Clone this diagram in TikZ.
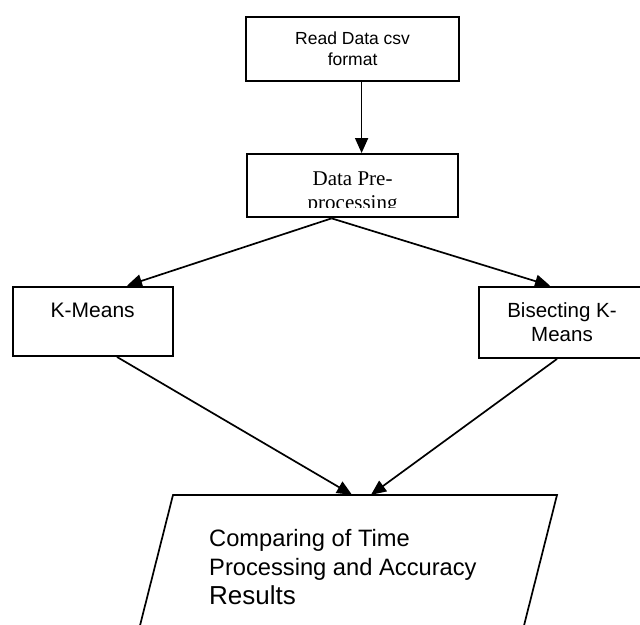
\documentclass[tikz,border=0pt]{standalone}
\usepackage{fontspec}
\setmainfont{Liberation Sans}
\newfontfamily\timesfont{Liberation Serif}
\usetikzlibrary{arrows.meta}
\tikzset{
   flowbox/.style={draw, line width=2pt, inner sep=0pt},
   flowline/.style={line width=1.7pt, -{Triangle[length=15pt, width=13pt]}},
   flowtext/.style={inner sep=0pt, align=center}
}
\begin{document}
\begin{tikzpicture}[x=1pt, y=-1pt]
      \clip (0,0) rectangle (640,624);
      \def \Boxes {
         read/352.6/48.9/212.3/64.3,
         pre/352.6/185.7/211.3/63.3,
         kmeans/92.7/321.3/160/69.3,
         bisect/562/322.3/166/71.3}
      \def \Edges {
         read/9/pre/9,
         pre/-21/kmeans/34.3,
         pre/-21/bisect/-12,
         kmeans/24.3/res/-9.5,
         bisect/-5/res/9.5}
      \foreach \u / \x / \y / \w / \h in \Boxes {
         \node[flowbox, minimum width=\w pt, minimum height=\h pt] (\u) at (\x, \y) {};
      }
      \node[flowtext, font=\fontsize{17.5}{20.5}\selectfont] (readtext) at (read) {Read Data csv\\format};
      \node[flowtext, anchor=base, font=\fontsize{21}{24}\selectfont] (kmeanstext) at ([yshift=-32.3pt]kmeans.north) {K-Means};
      \node[flowtext, font=\fontsize{20.5}{23.7}\selectfont] (bisecttext) at (bisect) {Bisecting K-\\Means};
      \begin{scope}
         \clip ([yshift=10.6pt]pre.south west) rectangle (pre.north east);
         \node[flowtext, font=\timesfont\fontsize{21}{24}\selectfont] (pretext) at ([yshift=-7.3pt]pre.center) {Data Pre-\\processing};
      \end{scope}
      % result box, cut off by the page
      \draw[line width=1.7pt] (133.8,650) -- (173,495) -- (557,495) -- (517.8,650);
      \node[inner sep=0pt, minimum size=0pt] (res) at (361.5,495) {};
      \node[flowtext, align=left, anchor=north west, font=\fontsize{23.7}{29}\selectfont] (restext) at (209,528.7) {Comparing of Time\\Processing and Accuracy\\{\fontsize{26}{29}\selectfont Results}};
      \foreach \u / \a / \v / \b in \Edges {
         \path[draw, flowline] ([xshift=\a pt]\u.south) -- ([xshift=\b pt]\v.north);
      }
   \end{tikzpicture}
\end{document}
